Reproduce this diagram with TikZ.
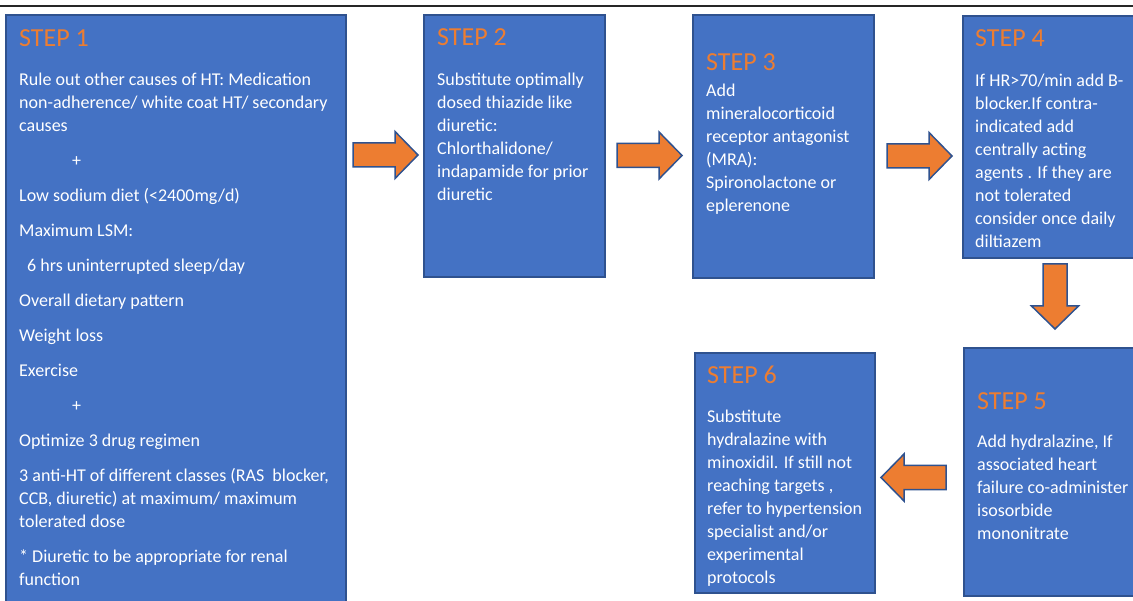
\documentclass[tikz,border=0pt]{standalone}
\usepackage{fontspec}
\setmainfont{Carlito}
\definecolor{boxfill}{HTML}{4472C4}
\definecolor{boxline}{HTML}{2F528F}
\definecolor{steporange}{HTML}{ED7D31}
\newcommand{\steplines}[1]{\begin{tabular}[t]{@{}l@{}}#1\end{tabular}}
\begin{document}
\begin{tikzpicture}[x=1pt,y=-1pt,
  box/.style={draw=boxline, fill=boxfill, line width=1.5pt, inner sep=0pt, outer sep=0pt},
  steptitle/.style={anchor=base west, inner sep=0pt, text=steporange, font=\fontsize{26}{30}\selectfont},
  body/.style={anchor=base west, inner sep=0pt, text=white, font=\fontsize{18}{23}\selectfont},
  blockarrow/.pic={\draw[fill=steporange, draw=boxline, line width=1.5pt, line join=miter]
     (0,-12) -- (42,-12) -- (42,-23.5) -- (65,0) -- (42,23.5) -- (42,12) -- (0,12) -- cycle;}]
\useasboundingbox (0,0) rectangle (1133,601);
\path[clip] (0,0) rectangle (1133,601);
% top rule
\draw[line width=2pt, black!85] (0,6) -- (1133,6);
% boxes
\node[box, minimum width=340pt, minimum height=590pt] (s1) at (176,310) {};
\node[box, minimum width=181pt, minimum height=262pt] (s2) at (514.5,146) {};
\node[box, minimum width=181pt, minimum height=263pt] (s3) at (783.5,146.5) {};
\node[box, minimum width=177pt, minimum height=242pt] (s4) at (1051.5,137) {};
\node[box, minimum width=176pt, minimum height=248pt] (s5) at (1052,472) {};
\node[box, minimum width=180pt, minimum height=240pt] (s6) at (785,473) {};
% step 1
\node[steptitle] (h1) at (19,47) {STEP 1};
\node[body] (t1) at (19,86) {\steplines{Rule out other causes of HT: Medication\\
non-adherence/ white coat HT/ secondary\\
causes\\[12pt]
\hspace*{53pt}+\\[12pt]
Low sodium diet (<2400mg/d)\\[12pt]
Maximum LSM:\\[12pt]
\hspace*{8pt}6 hrs uninterrupted sleep/day\\[12pt]
Overall dietary pattern\\[12pt]
Weight loss\\[12pt]
Exercise\\[12pt]
\hspace*{53pt}+\\[12pt]
Optimize 3 drug regimen\\[12pt]
3 anti-HT of different classes (RAS\ \ blocker,\\
CCB, diuretic) at maximum/ maximum\\
tolerated dose\\[12pt]
* Diuretic to be appropriate for renal\\
function}};
% step 2
\node[steptitle] (h2) at (437,46) {STEP 2};
\node[body] (t2) at (437,86) {\steplines{Substitute optimally\\
dosed thiazide like\\
diuretic:\\
Chlorthalidone/\\
indapamide for prior\\
diuretic}};
% step 3
\node[steptitle] (h3) at (706,71) {STEP 3};
\node[body] (t3) at (706,97) {\steplines{Add\\
mineralocorticoid\\
receptor antagonist\\
(MRA):\\
Spironolactone or\\
eplerenone}};
% step 4
\node[steptitle] (h4) at (975,47) {STEP 4};
\node[body] (t4) at (975,87) {\steplines{If HR>70/min add B-\\
blocker.If contra-\\
indicated add\\
centrally acting\\
agents . If they are\\
not tolerated\\
consider once daily\\
diltiazem}};
% step 5
\node[steptitle] (h5) at (977,410) {STEP 5};
\node[body] (t5) at (977,448) {\steplines{Add hydralazine, If\\
associated heart\\
failure co-administer\\
isosorbide\\
mononitrate}};
% step 6
\node[steptitle] (h6) at (707,384) {STEP 6};
\node[body] (t6) at (707,423) {\steplines{Substitute\\
hydralazine with\\
minoxidil. If still not\\
reaching targets ,\\
refer to hypertension\\
specialist and/or\\
experimental\\
protocols}};
% arrows
\coordinate (a12) at (353,155);
\coordinate (a23) at (617,155.5);
\coordinate (a34) at (887,156);
\coordinate (a45) at (1055,264);
\coordinate (a56) at (946,477.5);
\pic at (a12) {blockarrow};
\pic at (a23) {blockarrow};
\pic at (a34) {blockarrow};
\pic[rotate=-90] at (a45) {blockarrow};
\pic[rotate=180] at (a56) {blockarrow};
\end{tikzpicture}
\end{document}
